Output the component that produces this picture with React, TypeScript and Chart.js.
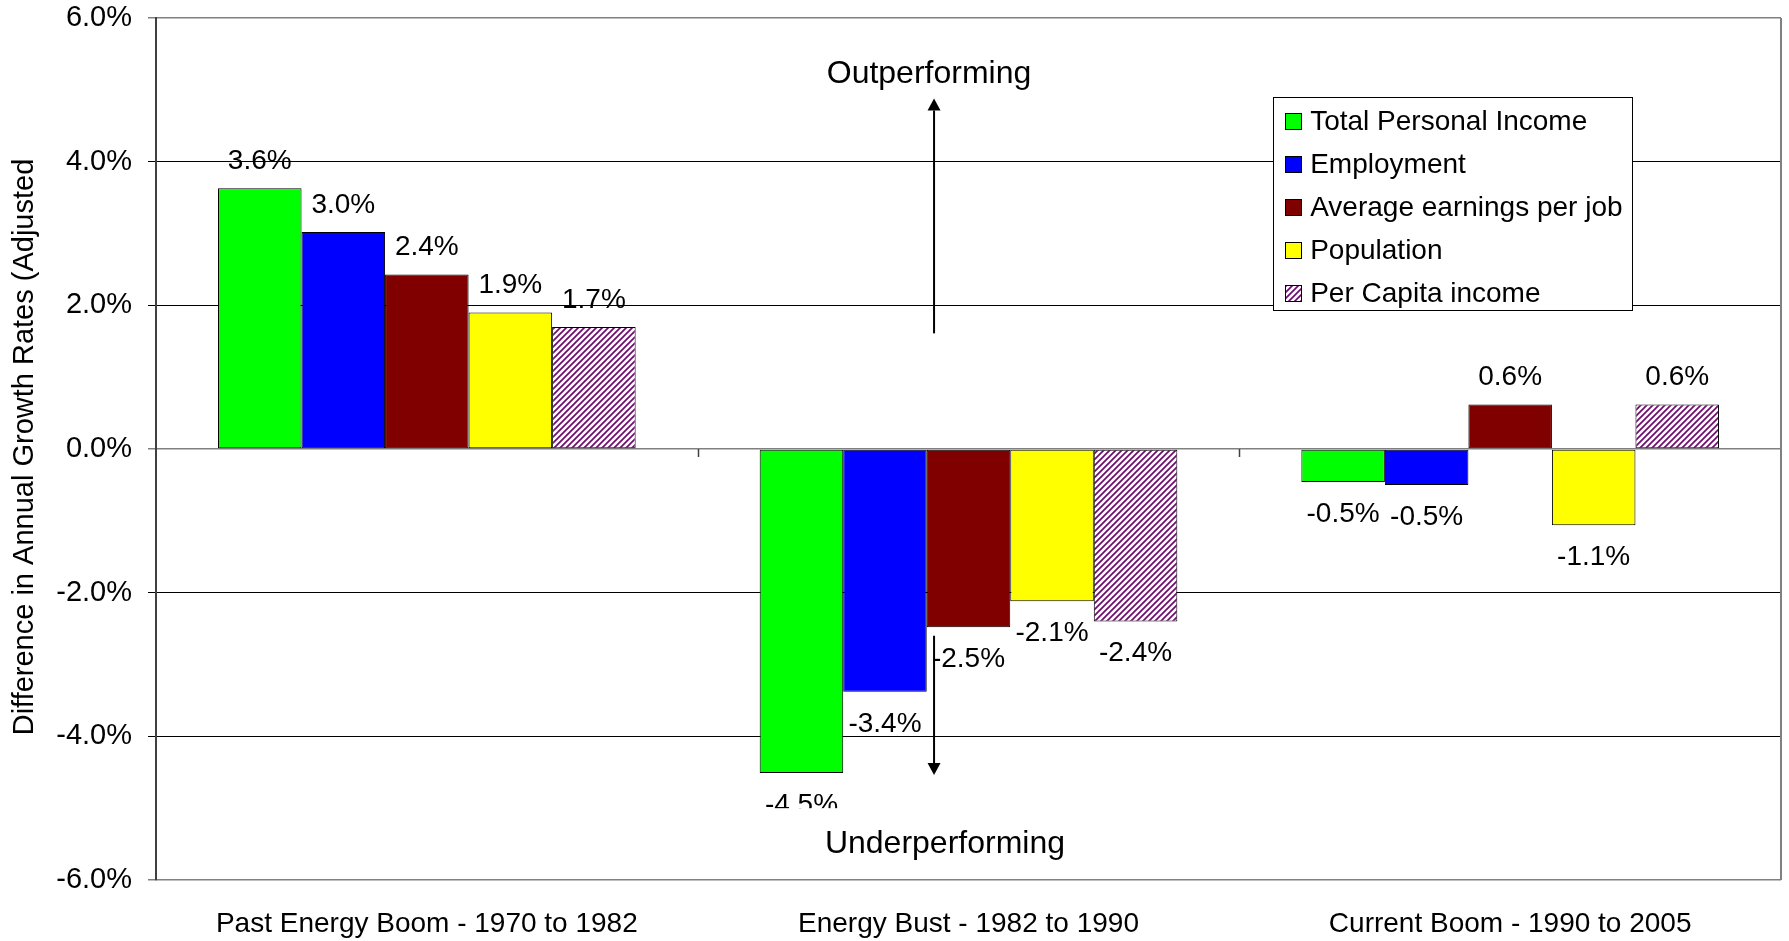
import React, { useEffect, useRef } from "react";
import { Chart, registerables } from "chart.js";

Chart.register(...registerables);

const FONT = '"Liberation Sans", Arial, Helvetica, sans-serif';

// ---------- data ----------
const categories = [
  "Past Energy Boom - 1970 to 1982",
  "Energy Bust - 1982 to 1990",
  "Current Boom - 1990 to 2005",
];
const seriesNames = [
  "Total Personal Income",
  "Employment",
  "Average earnings per job",
  "Population",
  "Per Capita income",
];
const totalPersonalIncome = [3.63, -4.51, -0.46];
const employment = [3.02, -3.38, -0.5];
const averageEarningsPerJob = [2.43, -2.48, 0.62];
const population = [1.9, -2.12, -1.06];
const perCapitaIncome = [1.7, -2.4, 0.62];
const seriesColors = ["#00FF00", "#0000FF", "#800000", "#FFFF00", "hatch"];
const yMin = -6;
const yMax = 6;
const yStep = 2;
const yTitle = "Difference in Annual Growth Rates (Adjusted";
const upLabel = "Outperforming";
const downLabel = "Underperforming";

function makeHatch(): CanvasPattern | string {
  const s = 6;
  const c = document.createElement("canvas");
  c.width = s;
  c.height = s;
  const g = c.getContext("2d");
  if (!g) return "#800080";
  g.fillStyle = "#ffffff";
  g.fillRect(0, 0, s, s);
  g.strokeStyle = "#700a70";
  g.lineWidth = 1.7;
  g.beginPath();
  g.moveTo(-1, s + 1);
  g.lineTo(s + 1, -1);
  g.moveTo(-1, 1);
  g.lineTo(1, -1);
  g.moveTo(s - 1, s + 1);
  g.lineTo(s + 1, s - 1);
  g.stroke();
  return g.createPattern(c, "repeat") || "#800080";
}

function arrow(ctx: CanvasRenderingContext2D, x: number, y0: number, y1: number) {
  const dir = y1 < y0 ? -1 : 1;
  const headLen = 12;
  const headHalf = 6.5;
  ctx.save();
  ctx.strokeStyle = "#000";
  ctx.fillStyle = "#000";
  ctx.lineWidth = 2;
  ctx.beginPath();
  ctx.moveTo(x, y0);
  ctx.lineTo(x, y1 - dir * headLen);
  ctx.stroke();
  ctx.beginPath();
  ctx.moveTo(x, y1);
  ctx.lineTo(x - headHalf, y1 - dir * headLen);
  ctx.lineTo(x + headHalf, y1 - dir * headLen);
  ctx.closePath();
  ctx.fill();
  ctx.restore();
}

export default function App() {
  const ref = useRef<HTMLCanvasElement>(null);

  useEffect(() => {
    document.body.style.margin = "0";
    const canvas = ref.current;
    if (!canvas) return;
    const hatch = makeHatch();
    const seriesData = [
      totalPersonalIncome,
      employment,
      averageEarningsPerJob,
      population,
      perCapitaIncome,
    ];
    const fills = seriesColors.map((c) => (c === "hatch" ? hatch : c));

    const overlay = {
      id: "overlay",
      afterDatasetsDraw(chart: any) {
        const ctx: CanvasRenderingContext2D = chart.ctx;
        const ca = chart.chartArea;
        const ys = chart.scales.y;
        const w = ca.right - ca.left;
        const y0 = ys.getPixelForValue(0);

        ctx.save();
        // right border of plot area
        ctx.strokeStyle = "#808080";
        ctx.lineWidth = 2;
        ctx.beginPath();
        ctx.moveTo(ca.right, ca.top);
        ctx.lineTo(ca.right, ca.bottom);
        ctx.stroke();

        // category tick marks on the zero line
        ctx.strokeStyle = "#404040";
        ctx.lineWidth = 1.5;
        const catW = w / categories.length;
        for (let i = 1; i < categories.length; i++) {
          const bx = Math.round(ca.left + catW * i) + 0.5;
          ctx.beginPath();
          ctx.moveTo(bx, y0);
          ctx.lineTo(bx, y0 + 8);
          ctx.stroke();
        }

        // data labels
        ctx.fillStyle = "#000";
        ctx.font = `28px ${FONT}`;
        ctx.textAlign = "center";
        ctx.textBaseline = "middle";
        chart.data.datasets.forEach((ds: any, di: number) => {
          const meta = chart.getDatasetMeta(di);
          meta.data.forEach((bar: any, i: number) => {
            const v = ds.data[i] as number;
            const yy = bar.y + (v >= 0 ? -27 : 32);
            ctx.fillText(v.toFixed(1) + "%", bar.x, yy);
          });
        });

        // annotation arrows
        const ax = ca.left + w * 0.4788;
        arrow(ctx, ax, ys.getPixelForValue(1.61), ys.getPixelForValue(4.88));
        arrow(ctx, ax, ys.getPixelForValue(-2.6), ys.getPixelForValue(-4.54));

        // annotation texts
        ctx.font = `32px ${FONT}`;
        ctx.fillStyle = "#000";
        ctx.textAlign = "center";
        ctx.textBaseline = "middle";
        ctx.fillText(upLabel, ca.left + w * 0.4757, ys.getPixelForValue(5.22));
        // white text box behind "Underperforming"
        ctx.fillStyle = "#fff";
        const boxTop = ys.getPixelForValue(-5.0);
        ctx.fillRect(ca.left + w * 0.36, boxTop, w * 0.245, ca.bottom - 3 - boxTop);
        ctx.fillStyle = "#000";
        ctx.fillText(downLabel, ca.left + w * 0.4855, ys.getPixelForValue(-5.5));

        // legend
        const lLeft = ca.left + w * 0.6875;
        const lTop = ca.top + 79;
        const lW = 359;
        const lH = 213;
        ctx.fillStyle = "#fff";
        ctx.fillRect(lLeft, lTop, lW, lH);
        ctx.strokeStyle = "#000";
        ctx.lineWidth = 1;
        ctx.strokeRect(Math.round(lLeft) + 0.5, Math.round(lTop) + 0.5, lW, lH);
        ctx.font = `28px ${FONT}`;
        ctx.textAlign = "left";
        ctx.textBaseline = "middle";
        seriesNames.forEach((name, i) => {
          const cy = lTop + 24 + i * 43;
          const sx = Math.round(lLeft + 12);
          const sy = Math.round(cy - 8);
          ctx.fillStyle = fills[i] as any;
          ctx.fillRect(sx, sy, 17, 17);
          ctx.strokeStyle = "#000";
          ctx.lineWidth = 1;
          ctx.strokeRect(sx + 0.5, sy + 0.5, 16, 16);
          ctx.fillStyle = "#000";
          ctx.fillText(name, lLeft + 37, cy + 1);
        });

        // y axis title
        ctx.save();
        ctx.translate(25, (ca.top + ca.bottom) / 2 - 2);
        ctx.rotate(-Math.PI / 2);
        ctx.font = `29px ${FONT}`;
        ctx.textAlign = "center";
        ctx.textBaseline = "middle";
        ctx.fillStyle = "#000";
        ctx.fillText(yTitle, 0, 0);
        ctx.restore();

        ctx.restore();
      },
    };

    const chart = new Chart(canvas, {
      type: "bar",
      data: {
        labels: categories,
        datasets: seriesData.map((d, i) => ({
          label: seriesNames[i],
          data: d,
          backgroundColor: fills[i] as any,
          borderColor: "#000000",
          borderWidth: 1,
          borderSkipped: false,
          categoryPercentage: 0.771,
          barPercentage: 1,
        })),
      },
      options: {
        responsive: false,
        animation: false,
        devicePixelRatio: 1,
        layout: { padding: { top: 18, right: 8, left: 0, bottom: 0 } },
        plugins: {
          legend: { display: false },
          tooltip: { enabled: false },
        },
        scales: {
          x: {
            grid: { display: false, drawTicks: false },
            border: { display: false },
            ticks: {
              color: "#000",
              font: { family: FONT, size: 28 },
              padding: 27,
              maxRotation: 0,
              autoSkip: false,
            },
            afterFit: (s: any) => {
              s.height = 61;
              s.paddingLeft = 0;
              s.paddingRight = 0;
            },
          },
          y: {
            min: yMin,
            max: yMax,
            ticks: {
              stepSize: yStep,
              color: "#000",
              font: { family: FONT, size: 29 },
              padding: 16,
              callback: (v: any) => Number(v).toFixed(1) + "%",
            },
            grid: {
              color: (c: any) =>
                c.tick && (c.tick.value === 0 || Math.abs(c.tick.value) === 6)
                  ? "#808080"
                  : "#000000",
              lineWidth: (c: any) =>
                c.tick && (c.tick.value === 0 || Math.abs(c.tick.value) === 6) ? 1.5 : 1,
              tickLength: 8,
            },
            border: { display: true, color: "#404040", width: 2 },
            afterFit: (s: any) => {
              s.width = 156;
              s.paddingTop = 0;
              s.paddingBottom = 0;
            },
          },
        },
      },
      plugins: [overlay],
    } as any);

    return () => chart.destroy();
  }, []);

  return (
    <div style={{ position: "absolute", left: 0, top: 0, width: 1789, height: 941, background: "#fff" }}>
      <canvas ref={ref} width={1789} height={941} style={{ display: "block" }} />
    </div>
  );
}
